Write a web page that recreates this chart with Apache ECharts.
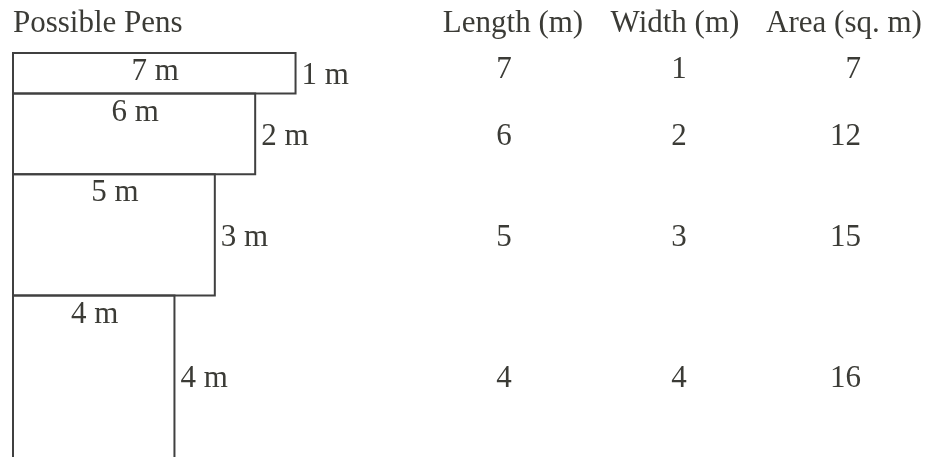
<!DOCTYPE html>
<html>
<head>
<meta charset="utf-8">
<script src="https://cdn.jsdelivr.net/npm/echarts@6/dist/echarts.min.js"></script>
<style>
  html, body { margin: 0; padding: 0; background: #fff; }
  #chart { width: 927px; height: 457px; }
</style>
</head>
<body>
<div id="chart"></div>
<script>
// pen sizes (m)
const lengths = [7, 6, 5, 4]
const widths = [1, 2, 3, 4]
const areas = [7, 12, 15, 16]
const headers = ['Length (m)', 'Width (m)', 'Area (sq. m)']
const title = 'Possible Pens'

const textColor = '#3b3b36'
const lineColor = '#404040'
const font = '31px "Liberation Serif", "Times New Roman", serif'

// stack the pens top to bottom
let acc = 0
const penData = lengths.map((len, i) => {
  const item = [acc, len, widths[i], areas[i]]
  acc += widths[i]
  return item
})

const chart = echarts.init(document.getElementById('chart'))

function txt (text, x, y, align) {
  return {
    type: 'text',
    style: { text: text, x: x, y: y, font: font, fill: textColor, align: align || 'center', verticalAlign: 'middle' }
  }
}

const option = {
  animation: false,
  backgroundColor: '#fff',
  grid: { left: 13, top: 53, width: 888, height: 404 },
  xAxis: {
    type: 'value', min: 0, max: 22,
    axisLine: { show: false }, axisTick: { show: false }, axisLabel: { show: false }, splitLine: { show: false }
  },
  yAxis: {
    type: 'value', min: 0, max: 10, inverse: true,
    axisLine: { show: false }, axisTick: { show: false }, axisLabel: { show: false }, splitLine: { show: false }
  },
  graphic: [
    txt(title, 13, 24, 'left'),
    txt(headers[0], 513, 24),
    txt(headers[1], 675, 24),
    txt(headers[2], 844, 24)
  ],
  series: [
    {
      type: 'custom',
      clip: false,
      data: penData,
      renderItem: function (params, api) {
        const y0 = api.value(0)
        const len = api.value(1)
        const wid = api.value(2)
        const area = api.value(3)
        const tl = api.coord([0, y0])
        const br = api.coord([len, y0 + wid])
        const midY = (tl[1] + br[1]) / 2
        const isLast = params.dataIndex === penData.length - 1
        // the last pen runs off the bottom of the picture, so no bottom edge
        const pts = [[tl[0], br[1]], [tl[0], tl[1]], [br[0], tl[1]], [br[0], br[1]]]
        const outline = isLast
          ? { type: 'polyline', shape: { points: pts }, style: { fill: 'none', stroke: lineColor, lineWidth: 2 } }
          : { type: 'polygon', shape: { points: pts }, style: { fill: 'none', stroke: lineColor, lineWidth: 2 } }
        // first row of the table sits a little higher
        const rowY = params.dataIndex === 0 ? tl[1] + 17 : midY + 3
        return {
          type: 'group',
          children: [
            outline,
            txt(len + ' m', (tl[0] + br[0]) / 2 + 1, tl[1] + 19),
            txt(wid + ' m', br[0] + 6, midY + 3, 'left'),
            txt(String(len), 504, rowY),
            txt(String(wid), 679, rowY),
            txt(String(area), 861, rowY, 'right')
          ]
        }
      }
    }
  ]
}

chart.setOption(option)
</script>
</body>
</html>
